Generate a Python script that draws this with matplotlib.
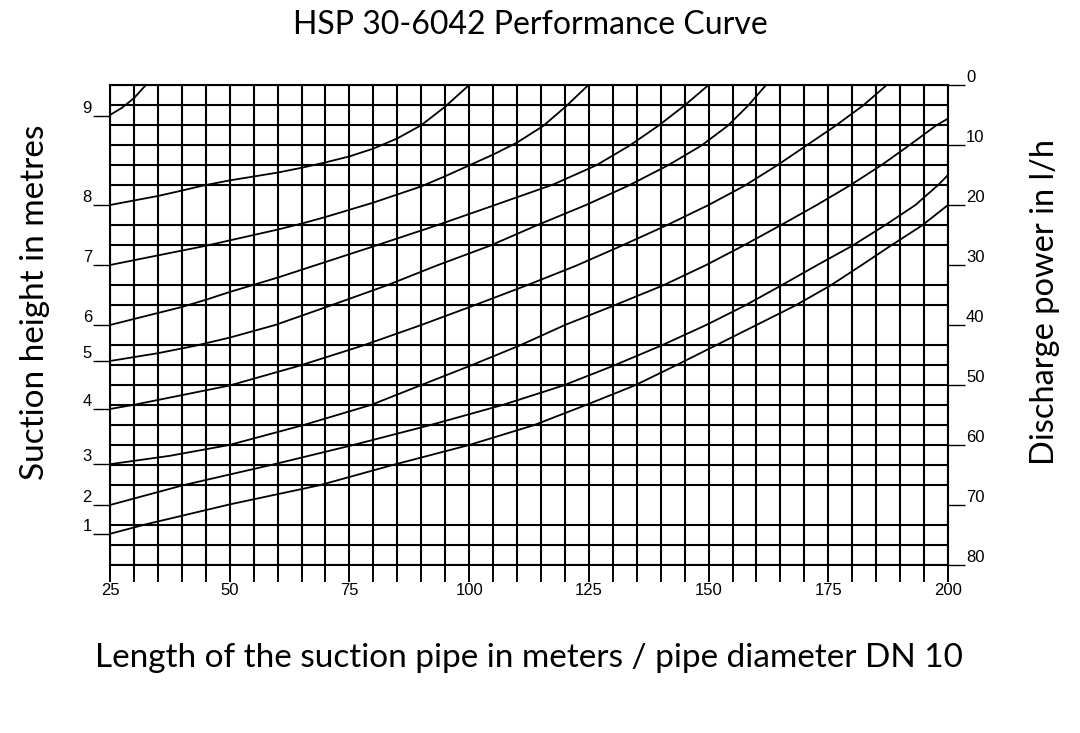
import numpy as np
import matplotlib
matplotlib.use("Agg")
import matplotlib.pyplot as plt

# ---- data (x = pipe length, y = discharge power in l/h, 0 at top) ----
curve1_x = [25, 32.6, 50, 68.8, 84.2, 100, 113.5, 124.5, 134.5, 143, 151.5, 160, 168, 175.5, 182, 188.2, 194.6, 200]
curve1_y = [74.8, 73.2, 69.9, 66.7, 63.3, 60, 56.7, 53.3, 50.1, 46.8, 43.4, 40, 36.8, 33.4, 30, 26.7, 23.4, 20]

curve2_x = [25, 40.3, 58.8, 75.8, 91.8, 107.1, 119.6, 130.1, 140.2, 149.5, 157.5, 165.2, 172.5, 180, 186.8, 193.2, 197.9, 200]
curve2_y = [70, 66.7, 63.3, 60, 56.7, 53.3, 50.1, 46.8, 43.4, 40, 36.8, 33.4, 30.1, 26.8, 23.4, 20, 16.7, 15]

curve3_x = [25, 37.5, 49.9, 65.3, 79.6, 89.7, 100.2, 110.6, 120, 130.1, 140.5, 149.5, 157.2, 165, 172.6, 179.6, 186.2, 192, 197.6, 200]
curve3_y = [63.2, 61.8, 60, 56.7, 53.3, 50.1, 46.8, 43.4, 40, 36.8, 33.4, 30, 26.8, 23.4, 20, 16.7, 13.3, 10, 6.7, 5.6]

curve4_x = [25, 30, 49.9, 64.5, 77.9, 90, 100.8, 112, 122.4, 131.8, 141.2, 150, 157.5, 164.3, 170.4, 176.5, 182.3, 187.2]
curve4_y = [54, 53.3, 50.1, 46.8, 43.4, 40, 36.8, 33.4, 30.1, 26.8, 23.4, 20, 16.8, 13.4, 10.1, 6.8, 3.4, 0]

curve5_x = [25, 35, 42.6, 50, 59.5, 70.9, 82.8, 93.2, 104.3, 114.1, 124.4, 133.2, 141.5, 148.5, 154, 158.3, 162]
curve5_y = [46, 44.7, 43.5, 42.1, 40, 36.8, 33.4, 30.1, 26.8, 23.4, 20, 16.8, 13.4, 10.1, 6.8, 3.4, 0]

curve6_x = [25, 35, 40, 45, 50, 55, 60, 65, 70, 75, 80, 93.2, 105.4, 117.5, 126.5, 133.5, 139.5, 145, 150]
curve6_y = [40, 38, 37, 35.8, 34.5, 33.3, 32.1, 30.8, 29.5, 28.2, 26.9, 23.4, 20, 16.6, 13.4, 10.1, 6.8, 3.4, 0]

curve7_x = [25, 30, 35, 40, 45, 50, 55, 60, 65, 70, 75, 80, 90, 95, 100, 105, 110, 115.5, 120.3, 124.9]
curve7_y = [30, 29.2, 28.4, 27.6, 26.8, 25.9, 25, 24.1, 23.1, 22, 20.8, 19.6, 16.9, 15.2, 13.4, 11.6, 9.6, 6.8, 3.5, 0]

curve8_x = [25, 35, 40, 44.2, 50, 60, 65, 70, 75, 80, 85, 90, 95, 100]
curve8_y = [20, 18.5, 17.6, 16.8, 15.9, 14.6, 13.8, 12.9, 11.9, 10.6, 8.9, 6.7, 3.6, 0]

curve9_x = [25, 27.5, 30, 32.5]
curve9_y = [5.0, 3.8, 2.2, 0]

curves = [(curve1_x, curve1_y), (curve2_x, curve2_y), (curve3_x, curve3_y),
          (curve4_x, curve4_y), (curve5_x, curve5_y), (curve6_x, curve6_y),
          (curve7_x, curve7_y), (curve8_x, curve8_y), (curve9_x, curve9_y)]

suction_labels = ["1", "2", "3", "4", "5", "6", "7", "8", "9"]
suction_pos = [74.8, 70, 63.2, 54, 46, 40, 30, 20, 5.2]

x_tick_vals = [25, 50, 75, 100, 125, 150, 175, 200]
right_tick_vals = [0, 10, 20, 30, 40, 50, 60, 70, 80]

title = "HSP 30-6042 Performance Curve"
xlabel = "Length of the suction pipe in meters / pipe diameter DN 10"
ylabel_left = "Suction height in metres"
ylabel_right = "Discharge power in l/h"

# ---- figure ----
fig = plt.figure(figsize=(10.8, 7.33), dpi=100)
ax = fig.add_axes([110 / 1080, 1 - 565 / 733, 838 / 1080, 480 / 733])

ax.set_xlim(25, 200)
ax.set_ylim(80, 0)

tick_font = dict(family="Liberation Sans", size=12)

# x ticks: labelled every 25, grid every 5
ax.set_xticks(x_tick_vals)
ax.set_xticklabels([str(v) for v in x_tick_vals], **tick_font)
ax.set_xticks(np.arange(25, 201, 5), minor=True)
ax.tick_params(axis="x", which="both", direction="out", length=12, width=1.4,
               pad=1.0, color="black")

# y grid every 10/3 units (24 rows)
ax.set_yticks(np.linspace(0, 80, 25), minor=True)
ax.tick_params(axis="y", which="minor", length=0)

# left ticks = suction height
ax.set_yticks(suction_pos)
ax.set_yticklabels(suction_labels, **tick_font)
ax.tick_params(axis="y", which="major", direction="out", length=12, width=1.0, pad=1.0)
for lab in ax.get_yticklabels():
    lab.set_verticalalignment("bottom")

ax.grid(True, which="both", axis="x", color="black", lw=1.5)
ax.grid(True, which="minor", axis="y", color="black", lw=1.5)
ax.grid(False, which="major", axis="y")

for s in ax.spines.values():
    s.set_linewidth(1.5)
    s.set_color("black")

# right ticks = discharge power
ax2 = ax.twinx()
ax2.set_ylim(80, 0)
ax2.set_yticks(right_tick_vals)
ax2.set_yticklabels([str(v) for v in right_tick_vals], **tick_font)
ax2.tick_params(axis="y", direction="out", length=12, width=1.0, pad=1.0)
for lab in ax2.get_yticklabels():
    lab.set_verticalalignment("bottom")
for s in ax2.spines.values():
    s.set_visible(False)

# curves
for cx, cy in curves:
    ax.plot(cx, cy, color="black", lw=1.3, solid_capstyle="butt",
            solid_joinstyle="round", zorder=3, clip_on=True)

# texts
fig.text(530 / 1080, 1 - 25 / 733, title, ha="center", va="center",
         family="Lato", fontsize=23)
fig.text(529 / 1080, 1 - 658 / 733, xlabel, ha="center", va="center",
         family="Lato", fontsize=24)
fig.text(35 / 1080, 1 - 302 / 733, ylabel_left, ha="center", va="center",
         rotation=90, family="Lato", fontsize=24)
fig.text(1045 / 1080, 1 - 302 / 733, ylabel_right, ha="center", va="center",
         rotation=90, family="Lato", fontsize=23.5)

fig.savefig("out.png", dpi=100)
